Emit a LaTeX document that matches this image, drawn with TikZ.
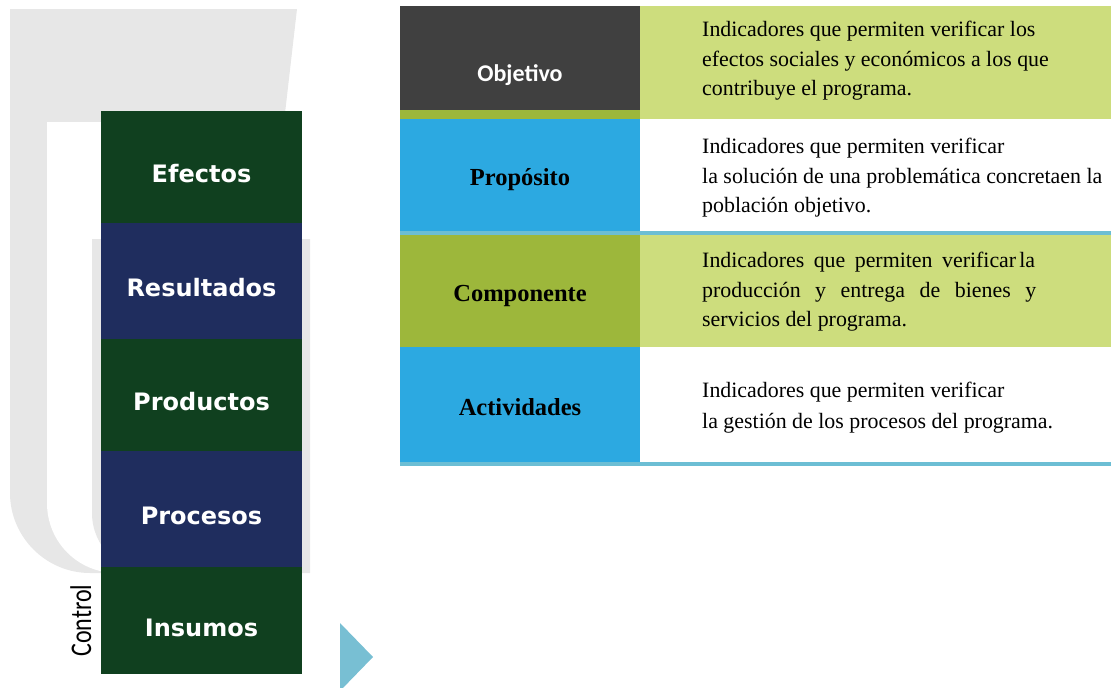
\documentclass[tikz,border=0pt]{standalone}
\usepackage{fontspec}
\setmainfont{Liberation Serif}
\newfontfamily\stagefont{DejaVu Sans}
\newfontfamily\calfont{Carlito}
\usepackage{xcolor}
\usetikzlibrary{positioning}
\definecolor{bggray}{RGB}{231,231,231}
\definecolor{deepgreen}{RGB}{16,64,31}
\definecolor{deepnavy}{RGB}{31,45,94}
\definecolor{cellgray}{RGB}{64,64,64}
\definecolor{cellblue}{RGB}{44,169,225}
\definecolor{cellolive}{RGB}{157,183,59}
\definecolor{paleolive}{RGB}{205,221,125}
\definecolor{ruleblue}{RGB}{108,190,212}
\definecolor{arrowblue}{RGB}{120,191,211}

\begin{document}
\begin{tikzpicture}[x=1pt,y=-1pt,
  stage/.style={minimum width=201pt,inner sep=0pt,outer sep=0pt,text=white,text height=31pt,text depth=0pt,font=\stagefont\bfseries\fontsize{24}{28}\selectfont},
  level/.style={minimum width=240pt,inner sep=0pt,outer sep=0pt,text height=21pt,text depth=0pt,font=\bfseries\fontsize{24.5}{28}\selectfont},
  desc/.style={inner sep=0pt,align=left,text=black,yshift=-3pt,font=\fontsize{21.9}{29.5}\selectfont}]
\useasboundingbox (0,0) rectangle (1111,688);
\fill[bggray] (10,9) -- (297,9) -- (284,122) -- (284,573) -- (90,573) .. controls (46,573) and (10,537) .. (10,493) -- cycle;
\fill[white] (47,122) -- (310,122) -- (310,573) -- (117,573) .. controls (78,573) and (47,542) .. (47,503) -- cycle;
\fill[bggray] (92,239) -- (310,239) -- (310,573) -- (152,573) .. controls (119,573) and (92,546) .. (92,513) -- cycle;
\node[stage,fill=deepgreen,minimum height=112pt,anchor=north west] (efectos) at (101,111) {Efectos};
\node[stage,fill=deepnavy,minimum height=116pt,below=0pt of efectos] (resultados) {Resultados};
\node[stage,fill=deepgreen,minimum height=112pt,below=0pt of resultados] (productos) {Productos};
\node[stage,fill=deepnavy,minimum height=116pt,below=0pt of productos] (procesos) {Procesos};
\node[stage,fill=deepgreen,minimum height=107pt,below=0pt of procesos] (insumos) {Insumos};
\node[rotate=90,xscale=0.8,anchor=base,inner sep=0pt,font=\calfont\fontsize{30}{34}\selectfont] (control) at ([xshift=-10pt]insumos.west) {Control};
\fill[arrowblue] (340,623) -- (373,657) -- (340,691) -- cycle;
\node[level,fill=cellgray,minimum height=104pt,anchor=north west,text=white,font=\calfont\bfseries\fontsize{24}{28}\selectfont,text height=47pt,text depth=0pt] (objetivo) at (400,6) {Objetivo};
\fill[cellolive] (objetivo.south west) rectangle (640,119);
\fill[paleolive] (objetivo.north east) rectangle (1111,119);
\node[level,fill=cellblue,minimum height=112pt,anchor=north west] (proposito) at (400,119) {Propósito};
\fill[ruleblue] (proposito.south west) rectangle (1111,235);
\node[level,fill=cellolive,minimum height=112pt,below=4pt of proposito] (componente) {Componente};
\fill[paleolive] (componente.north east) rectangle (1111,347);
\node[level,fill=cellblue,minimum height=115pt,below=0pt of componente] (actividades) {Actividades};
\fill[ruleblue] (actividades.south west) rectangle (1111,466);
\node[desc,right=62pt of objetivo] (objdesc) {Indicadores que permiten verificar los\\efectos sociales y económicos a los que\\contribuye el programa.};
\node[desc,right=62pt of proposito] (propdesc) {Indicadores que permiten verificar\\la solución de una problemática concretaen la\\población objetivo.};
\node[desc,right=62pt of componente,yshift=2pt] (compdesc) {\makebox[314pt][s]{Indicadores que permiten verificar}\kern3pt la\\\makebox[334pt][s]{producción y entrega de bienes y}\\servicios del programa.};
\node[desc,right=62pt of actividades] (actdesc) {Indicadores que permiten verificar\\[1.5pt]la gestión de los procesos del programa.};
\end{tikzpicture}
\end{document}
